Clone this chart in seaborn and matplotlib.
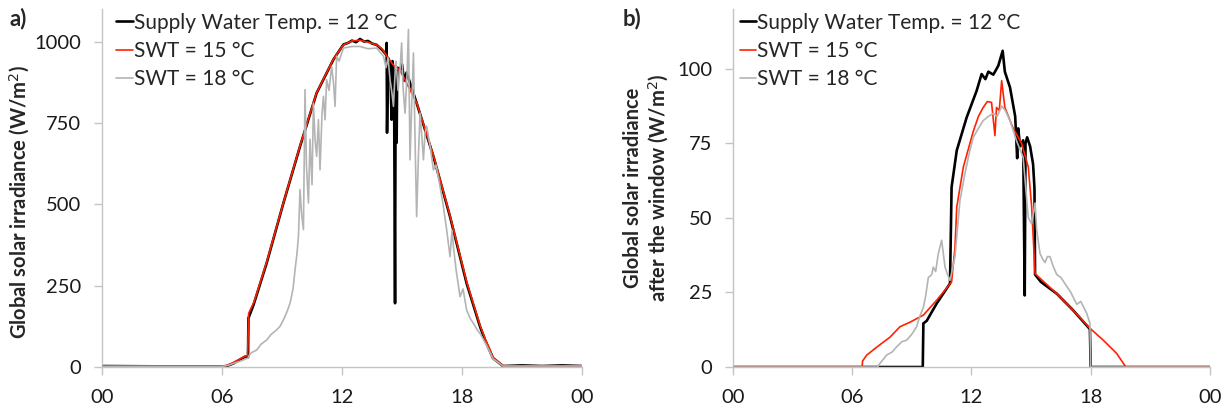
import numpy as np
import pandas as pd
import matplotlib
matplotlib.use("Agg")
import matplotlib.pyplot as plt
import seaborn as sns

# ---- panel a) global solar irradiance (W/m2) ----
a_hour_12 = [0, 3, 6.0, 6.23, 6.57, 7.15, 7.3, 7.32, 7.57, 8.23, 9.07, 9.9, 10.73, 11.57,
             12.07, 12.3, 12.5, 12.7, 12.9, 13.1, 13.3, 13.5, 13.73, 14.0, 14.2, 14.23, 14.25,
             14.3, 14.4, 14.48, 14.52, 14.6, 14.65, 14.68, 14.73, 14.76, 14.9, 15.0, 15.1,
             15.23, 15.73, 16.57, 17.4, 18.23, 18.9, 19.15, 19.55, 20.05, 21, 22, 23, 24]
a_val_12 = [3, 2, 2, 3, 11, 32, 30, 150, 190, 319, 504, 678, 842, 945,
            991, 996, 1003, 998, 1008, 1000, 1002, 994, 990, 975, 960, 996, 720,
            950, 935, 760, 940, 900, 196, 900, 689, 920, 914, 930, 880,
            905, 811, 647, 462, 257, 124, 83, 27, 3, 5, 3, 5, 3]

a_hour_15 = [0, 3, 6.0, 6.2, 6.57, 7.15, 7.28, 7.33, 7.6, 8.23, 9.07, 9.9, 10.73, 11.57,
             12.07, 12.5, 12.9, 13.3, 13.73, 14.0, 14.3, 14.6, 14.9, 15.73, 16.57, 17.4,
             18.23, 18.9, 19.15, 19.55, 20.05, 21, 24]
a_val_15 = [3, 3, 3, 4, 14, 33, 35, 165, 200, 322, 505, 680, 843, 946,
            990, 1002, 1004, 998, 990, 978, 950, 925, 912, 812, 650, 465,
            262, 128, 88, 30, 4, 3, 3]

a_hour_18 = [0, 3, 6.0, 6.3, 7.0, 7.3, 7.4, 7.5, 7.73, 7.95, 8.23, 8.45, 8.73, 8.9, 9.07,
             9.25, 9.4, 9.55, 9.65, 9.75, 9.82, 9.9, 9.98, 10.07, 10.15, 10.22, 10.32, 10.4,
             10.5, 10.57, 10.65, 10.73, 10.82, 10.9, 11.0, 11.07, 11.15, 11.23, 11.35, 11.48,
             11.58, 11.65, 11.73, 11.85, 12.07, 12.5, 12.9, 13.3, 13.73, 14.07, 14.2, 14.3,
             14.4, 14.5, 14.57, 14.65, 14.7, 14.8, 14.9, 14.98, 15.05, 15.15, 15.25, 15.32,
             15.4, 15.48, 15.57, 15.65, 15.73, 15.82, 15.9, 16.0, 16.07, 16.15, 16.23, 16.4,
             16.57, 16.7, 16.9, 17.05, 17.23, 17.4, 17.5, 17.57, 17.7, 17.9, 18.05, 18.23,
             18.4, 18.57, 18.75, 18.9, 19.2, 19.55, 20.05, 24]
a_val_18 = [2, 2, 2, 5, 20, 28, 40, 45, 52, 70, 83, 100, 114, 125, 145,
            170, 196, 240, 298, 350, 401, 545, 470, 422, 852, 620, 504, 700,
            560, 811, 700, 647, 760, 606, 780, 832, 760, 883, 850, 924,
            870, 801, 955, 940, 980, 985, 985, 978, 980, 955, 920, 950,
            883, 840, 801, 900, 940, 850, 914, 996, 860, 780, 900, 1037,
            637, 800, 965, 700, 462, 650, 780, 700, 637, 720, 740, 680,
            606, 620, 555, 500, 422, 339, 420, 370, 300, 216, 240, 175,
            150, 134, 115, 103, 70, 25, 3, 3]

# ---- panel b) global solar irradiance after the window (W/m2) ----
b_hour_12 = [0, 9.55, 9.58, 9.75, 10.25, 10.92, 11.0, 11.26, 11.76, 12.26, 12.51, 12.7,
             12.85, 13.1, 13.35, 13.57, 13.68, 13.94, 14.2, 14.3, 14.35, 14.45, 14.6, 14.68,
             14.72, 14.8, 14.95, 15.1, 15.17, 15.2, 15.5, 16.29, 17.12, 17.96, 18.0, 24]
b_val_12 = [0, 0, 14.6, 15.5, 21.3, 28, 60.3, 72.6, 83.7, 92.6, 98.2, 96.5,
            99, 98, 101, 106, 99, 93.7, 84, 70, 80, 74, 76, 24,
            75, 77, 74, 68, 60, 31, 28.5, 24.6, 19, 12.7, 0, 0]

b_hour_15 = [0, 6.5, 6.52, 6.73, 7.3, 7.9, 8.4, 8.9, 9.58, 10.25, 11.0, 11.17, 11.26,
             11.59, 12.09, 12.35, 12.59, 12.8, 13.01, 13.18, 13.26, 13.4, 13.52, 13.68,
             14.1, 14.52, 14.86, 15.03, 15.2, 16.29, 17.12, 17.96, 18.63, 19.3, 19.77, 24]
b_val_15 = [0, 0, 2, 4, 7, 10, 13.5, 15, 17.4, 22.4, 28.5, 40, 53.6,
            67, 79, 84, 87, 89, 88.7, 77.6, 87, 86, 96, 87,
            80, 75, 67, 53.6, 31.3, 24.6, 19, 13, 9, 4.6, 0, 0]

b_hour_18 = [0, 7.3, 7.31, 7.73, 8.0, 8.24, 8.5, 8.74, 9.0, 9.24, 9.4, 9.58, 9.7, 9.83,
             10.0, 10.08, 10.2, 10.33, 10.5, 10.67, 10.8, 10.92, 11.17, 11.42, 11.67, 11.9,
             12.09, 12.35, 12.59, 12.85, 13.1, 13.3, 13.52, 13.7, 13.94, 14.27, 14.6, 14.86,
             15.03, 15.2, 15.28, 15.45, 15.6, 15.7, 15.82, 15.95, 16.1, 16.29, 16.5, 16.8,
             17.0, 17.3, 17.5, 17.8, 17.96, 18.0, 24]
b_val_18 = [0, 0, 0.5, 4, 5, 6.8, 8.5, 9, 11, 13.5, 17, 20, 24, 30,
            31, 33.5, 32, 38, 42.5, 33.5, 31, 29, 37, 55.8, 64.8, 72,
            77, 80, 82.6, 84, 85, 84, 87.5, 86, 82.6, 75.8, 70.3, 50,
            48, 55, 46, 38, 36, 35, 37, 37, 34, 31, 30, 27,
            25, 21, 22, 18, 14.7, 0, 0]

series_labels = ["Supply Water Temp. = 12 °C", "SWT = 15 °C", "SWT = 18 °C"]
series_colors = ["#000000", "#ff2200", "#b4b4b4"]
series_widths = [1.9, 1.2, 1.2]

sns.set_style("white")
plt.rcParams["font.family"] = ["Lato", "DejaVu Sans"]

fig = plt.figure(figsize=(12.29, 4.11), dpi=100)
ax_a = fig.add_axes([0.083, 0.107, 0.3906, 0.871])
ax_b = fig.add_axes([0.5964, 0.107, 0.3881, 0.871])

panels = [
    (ax_a, [(a_hour_12, a_val_12), (a_hour_15, a_val_15), (a_hour_18, a_val_18)],
     [0, 250, 500, 750, 1000], 1100, "Global solar irradiance (W/m$^2$)", "a)"),
    (ax_b, [(b_hour_12, b_val_12), (b_hour_15, b_val_15), (b_hour_18, b_val_18)],
     [0, 25, 50, 75, 100], 120, "Global solar irradiance\nafter the window (W/m$^2$)", "b)"),
]

for ax, data, yticks, ymax, ylab, tag in panels:
    # gray first, then black, red on top
    for i in [2, 0, 1]:
        h, v = data[i]
        df = pd.DataFrame({"hour": h, "value": v})
        sns.lineplot(data=df, x="hour", y="value", ax=ax, color=series_colors[i],
                     linewidth=series_widths[i], estimator=None, sort=False,
                     label=series_labels[i], zorder=2 + i)
    hs, ls = ax.get_legend_handles_labels()
    lookup = dict(zip(ls, hs))
    ax.legend([lookup[l] for l in series_labels], series_labels, loc="upper left",
              bbox_to_anchor=(0.03 if tag == "a)" else 0.014, 0.99), frameon=False,
              fontsize=15, handlelength=0.8, handletextpad=0.05, labelspacing=0.4,
              borderaxespad=0, borderpad=0)
    ax.set_xlim(0, 24)
    ax.set_ylim(0, ymax)
    ax.set_xticks([0, 6, 12, 18, 24])
    ax.set_xticklabels(["00", "06", "12", "18", "00"])
    ax.set_yticks(yticks)
    ax.set_xlabel("")
    ax.set_ylabel(ylab, fontsize=14.5, fontweight="bold", labelpad=4)
    sns.despine(ax=ax)
    for s in ["left", "bottom"]:
        ax.spines[s].set_color("#c4c4c4")
        ax.spines[s].set_linewidth(1.0)
    ax.tick_params(axis="both", which="major", length=6, width=1.0, color="#c4c4c4",
                   labelsize=14.5, labelcolor="#1a1a1a", direction="out", left=True, bottom=True)
    ax.tick_params(axis="y", pad=9)
    ax.tick_params(axis="x", pad=10)

ax_a.yaxis.set_label_coords(-0.146, 0.46)

fig.text(0.008, 0.955, "a)", fontsize=16, fontweight="bold", va="center", ha="left")
fig.text(0.507, 0.955, "b)", fontsize=16, fontweight="bold", va="center", ha="left")

fig.savefig("out.png", dpi=100)
